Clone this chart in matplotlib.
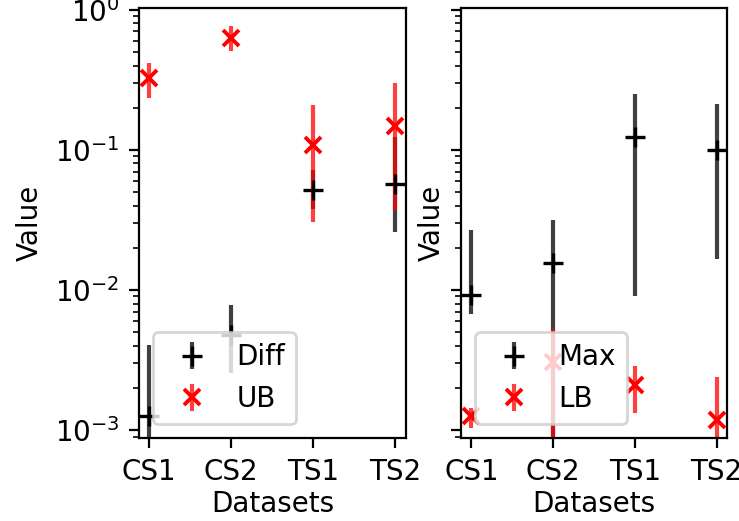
import matplotlib
matplotlib.use("Agg")
import matplotlib.pyplot as plt
import numpy as np

categories = ['CS1', 'CS2', 'TS1', 'TS2']

diff_val = [0.00127, 0.00477, 0.0518, 0.0572]
diff_lo = [0.0005, 0.00257, 0.0376, 0.0258]
diff_hi = [0.00405, 0.00782, 0.072, 0.124]

ub_val = [0.325, 0.628, 0.109, 0.147]
ub_lo = [0.234, 0.512, 0.0308, 0.0373]
ub_hi = [0.42, 0.769, 0.21, 0.30]

max_val = [0.0092, 0.0155, 0.1245, 0.100]
max_lo = [0.00674, 0.0005, 0.00906, 0.01656]
max_hi = [0.0268, 0.0316, 0.25, 0.212]

lb_val = [0.00127, 0.00308, 0.0021, 0.00119]
lb_lo = [0.00104, 0.0005, 0.00133, 0.0005]
lb_hi = [0.00143, 0.00526, 0.00287, 0.0024]


def yerr(v, lo, hi):
    v = np.array(v); lo = np.array(lo); hi = np.array(hi)
    return np.vstack([v - lo, hi - v])


fig = plt.figure(figsize=(3.695, 2.605), dpi=200)
ax1 = fig.add_axes([0.188, 0.159, 0.361, 0.826])
ax2 = fig.add_axes([0.624, 0.159, 0.360, 0.826], sharey=ax1)

x = np.arange(len(categories))


def draw(ax, v1, lo1, hi1, lab1, v2, lo2, hi2, lab2):
    ax.errorbar(x, v1, yerr=yerr(v1, lo1, hi1), fmt='+', color='black',
                ecolor=(0, 0, 0, 0.75), ms=7, mew=1.2, lw=1.5, label=lab1)
    ax.errorbar(x, v2, yerr=yerr(v2, lo2, hi2), fmt='x', color='red',
                ecolor=(1, 0, 0, 0.75), ms=6, mew=1.4, lw=1.5, label=lab2)
    ax.set_yscale('log')
    ax.set_xticks(x)
    ax.set_xticklabels(categories)
    ax.set_xlim(-0.125, 3.13)
    ax.set_xlabel('Datasets', labelpad=1.5)
    ax.legend(loc='lower left', handletextpad=0.6)


draw(ax1, diff_val, diff_lo, diff_hi, 'Diff', ub_val, ub_lo, ub_hi, 'UB')
draw(ax2, max_val, max_lo, max_hi, 'Max', lb_val, lb_lo, lb_hi, 'LB')
ax1.set_ylabel('Value')
ax2.set_ylabel('Value', labelpad=0)
ax1.set_ylim(8.77e-4, 1.033)
plt.setp(ax2.get_yticklabels(), visible=False)

fig.savefig('out.png', dpi=200)
